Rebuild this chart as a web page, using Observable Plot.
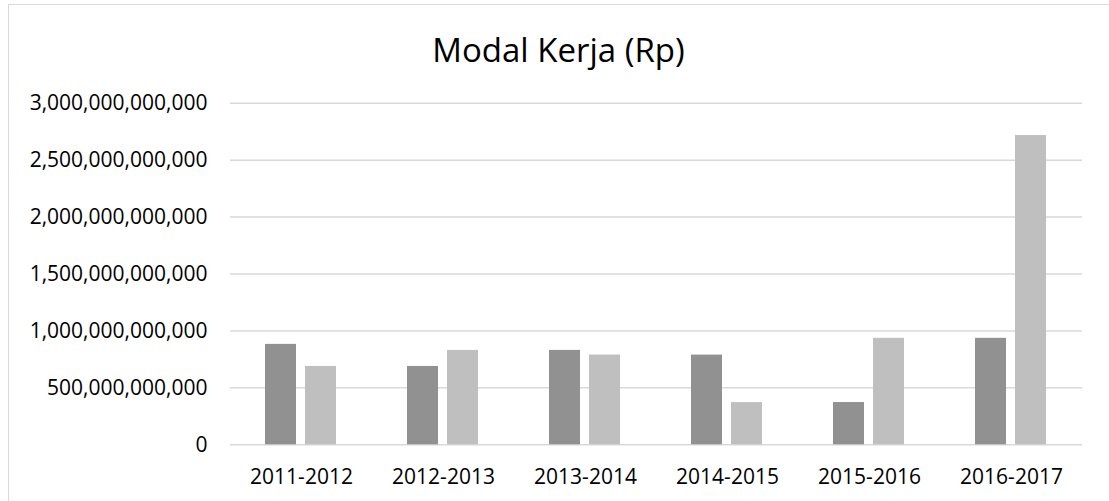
<!DOCTYPE html>
<html>
<head>
<meta charset="utf-8">
<script src="https://cdn.jsdelivr.net/npm/d3@7"></script>
<script src="https://cdn.jsdelivr.net/npm/@observablehq/plot@0.6"></script>
<style>
  body { margin: 0; background: #fff; }
  #frame { position: relative; width: 1109px; height: 501px; overflow: hidden; font-family: "Open Sans", sans-serif; }
  #border { position: absolute; left: 8px; top: 4px; right: -4px; bottom: -4px; border-top: 1.5px solid #d9d9d9; border-left: 1.5px solid #d9d9d9; }
  #title { position: absolute; left: 8px; width: 1101px; top: 33px; line-height: 33px; font-size: 33px; text-align: center; color: #000; white-space: nowrap; }
  #chart { position: absolute; left: 0; top: 76px; }
</style>
</head>
<body>
<div id="frame">
  <div id="border"></div>
  <div id="title">Modal Kerja (Rp)</div>
  <div id="chart"></div>
</div>
<script>
const categories = ["2011-2012", "2012-2013", "2013-2014", "2014-2015", "2015-2016", "2016-2017"];
const seriesNames = ["Seri 1", "Seri 2"];
const seriesA = [882e9, 688e9, 829e9, 788e9, 371e9, 935e9];
const seriesB = [688e9, 829e9, 788e9, 371e9, 935e9, 2716e9];
const yTicks = [0, 500e9, 1000e9, 1500e9, 2000e9, 2500e9, 3000e9];

const data = categories.flatMap((c, i) => [
  {cat: c, series: seriesNames[0], value: seriesA[i]},
  {cat: c, series: seriesNames[1], value: seriesB[i]}
]);

const chart = Plot.plot({
  width: 1109,
  height: 425,
  marginLeft: 230,
  marginRight: 27,
  marginTop: 26.7,
  marginBottom: 56.7,
  style: {fontFamily: "'Open Sans', sans-serif", fontSize: "21px", color: "#000", background: "transparent", overflow: "visible"},
  fx: {domain: categories, padding: 0, label: null, axis: "bottom", tickSize: 0, tickPadding: 24},
  x: {domain: seriesNames, paddingInner: 0.214, paddingOuter: 0.878, axis: null},
  y: {domain: [0, 3e12], ticks: yTicks, tickFormat: d3.format(",.0f"), tickSize: 0, tickPadding: 23, label: null},
  color: {domain: seriesNames, range: ["#919191", "#bfbfbf"]},
  marks: [
    Plot.gridY(yTicks, {stroke: "#d9d9d9", strokeOpacity: 1, strokeWidth: 1.5}),
    Plot.barY(data, {fx: "cat", x: "series", y: "value", fill: "series"})
  ]
});
document.getElementById("chart").appendChild(chart);
</script>
</body>
</html>
